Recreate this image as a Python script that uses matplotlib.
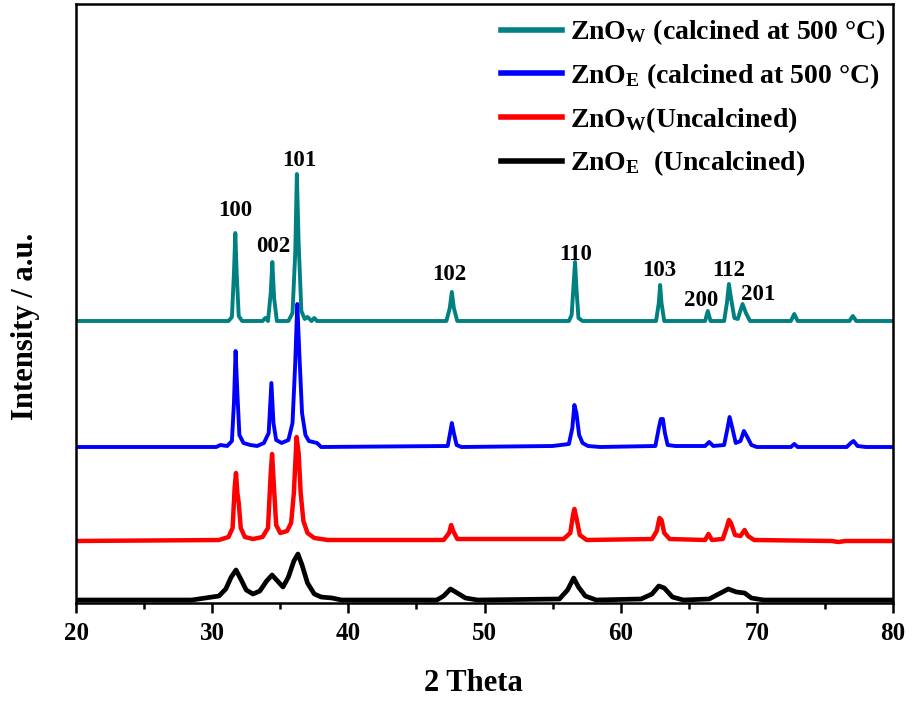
import matplotlib
matplotlib.use("Agg")
import matplotlib.pyplot as plt

plt.rcParams['font.family'] = ['Liberation Serif', 'DejaVu Serif']
plt.rcParams['font.weight'] = 'bold'
plt.rcParams['mathtext.fontset'] = 'custom'
plt.rcParams['mathtext.rm'] = 'Liberation Serif:bold'
plt.rcParams['mathtext.bf'] = 'Liberation Serif:bold'
plt.rcParams['mathtext.it'] = 'Liberation Serif:bold'

# ---- data (2 theta, intensity incl. vertical offset) ----
teal_x = [20.0, 31.2, 31.45, 31.6, 31.7, 31.8, 31.95, 32.2, 33.7, 33.9, 34.1, 34.3, 34.42, 34.55, 34.75,
          35.2, 35.6, 35.9, 36.1, 36.22, 36.35, 36.55, 36.8, 37.0, 37.3, 37.5, 37.7,
          47.2, 47.45, 47.6, 47.75, 48.0, 56.2, 56.4, 56.55, 56.65, 56.75, 56.9, 57.2,
          62.6, 62.8, 62.9, 63.0, 63.2, 66.2, 66.4, 66.6, 67.6, 67.8, 67.95, 68.1, 68.35,
          68.6, 68.95, 69.2, 69.5, 72.5, 72.75, 73.0, 76.8, 77.05, 77.3, 80.0]
teal_y = [282, 282, 286, 330, 370, 330, 287, 282, 282, 285, 282, 310, 341, 305, 282,
          282, 282, 290, 350, 429, 360, 292, 284, 286, 282, 285, 282,
          282, 295, 311, 295, 282, 282, 288, 320, 341, 315, 285, 282,
          282, 300, 318, 300, 282, 282, 292, 282, 282, 300, 319, 305, 285,
          284, 299, 290, 282, 282, 289, 282, 282, 287, 282, 282]

blue_x = [20.0, 30.3, 30.6, 31.1, 31.45, 31.6, 31.72, 31.85, 32.0, 32.3, 32.8, 33.3, 33.8, 34.15,
          34.35, 34.5, 34.7, 35.1, 35.6, 35.9, 36.1, 36.25, 36.4, 36.6, 36.85, 37.1, 37.4, 37.7,
          38.0, 47.3, 47.5, 47.6, 47.75, 47.95, 48.3, 55.0, 56.2, 56.45, 56.6, 56.75, 56.95,
          57.2, 57.6, 58.5, 62.55, 62.8, 62.95, 63.1, 63.25, 63.45, 64.0, 66.2, 66.5, 66.8,
          67.6, 67.85, 68.0, 68.2, 68.45, 68.8, 69.05, 69.3, 69.6, 70.0, 72.5, 72.75, 73.0,
          76.6, 76.9, 77.1, 77.4, 78.0, 80.0]
blue_y = [156, 156, 158, 157, 162, 200, 252, 210, 168, 160, 158, 157, 160, 170,
          220, 180, 163, 160, 163, 180, 240, 299, 250, 190, 168, 162, 161, 160,
          156, 157, 172, 180, 170, 158, 156, 157, 159, 175, 198, 190, 168,
          160, 157, 156, 157, 175, 184, 184, 170, 158, 157, 157, 161, 157,
          158, 175, 186, 175, 160, 162, 172, 166, 158, 156, 156, 159, 156,
          156, 160, 162, 157, 156, 156]

red_x = [20.0, 30.5, 31.2, 31.5, 31.65, 31.75, 31.85, 31.95, 32.1, 32.4, 33.0, 33.7, 34.1, 34.3,
         34.4, 34.5, 34.7, 35.0, 35.5, 35.8, 36.0, 36.2, 36.35, 36.5, 36.7, 37.0, 37.5, 38.5,
         47.0, 47.4, 47.55, 47.7, 48.0, 55.8, 56.3, 56.5, 56.6, 56.75, 57.0, 57.5,
         62.3, 62.65, 62.85, 63.0, 63.2, 63.6, 66.2, 66.45, 66.7, 67.5, 67.8, 67.95, 68.1,
         68.4, 68.8, 69.1, 69.35, 69.8, 75.5, 76.0, 76.5, 80.0]
red_y = [62, 63, 66, 75, 115, 130, 110, 100, 75, 66, 64, 66, 75, 130,
         149, 125, 78, 70, 72, 80, 110, 166, 150, 110, 82, 70, 65, 63,
         63, 70, 78, 72, 64, 64, 70, 88, 94, 85, 68, 63,
         64, 72, 85, 83, 70, 64, 63, 69, 63, 64, 76, 83, 80,
         68, 67, 73, 67, 63, 62, 61, 62, 62]

black_x = [20.0, 28.5, 29.5, 30.5, 31.0, 31.4, 31.75, 32.1, 32.5, 33.0, 33.5, 34.0, 34.4, 34.8,
           35.2, 35.6, 36.0, 36.3, 36.6, 37.0, 37.5, 38.0, 38.8, 39.5, 46.5, 47.0, 47.5, 48.0,
           48.6, 49.5, 55.5, 56.1, 56.55, 56.9, 57.4, 58.2, 61.5, 62.3, 62.8, 63.2, 63.8, 64.6,
           66.5, 67.2, 67.9, 68.5, 69.1, 69.6, 70.5, 80.0]
black_y = [3, 3, 5, 7, 14, 26, 33, 24, 13, 9, 12, 22, 28, 22,
           16, 26, 42, 49, 38, 20, 9, 6, 5, 3, 3, 7, 14, 10,
           5, 3, 4, 13, 25, 16, 7, 3, 4, 9, 17, 15, 6, 3,
           4, 9, 14, 11, 10, 5, 3, 3]

series_labels = [r"ZnO$_\mathregular{W}$ (calcined at 500 °C)",
                 r"ZnO$_\mathregular{E}$ (calcined at 500 °C)",
                 r"ZnO$_\mathregular{W}$(Uncalcined)",
                 r"ZnO$_\mathregular{E}$  (Uncalcined)"]
series_colors = ['#008080', '#0000ff', '#ff0000', '#000000']

peak_labels = ['100', '002', '101', '102', '110', '103', '200', '112', '201']
peak_label_x = [31.69, 34.49, 36.4, 47.43, 56.7, 62.8, 65.9, 67.9, 70.1]
peak_label_y = [392, 357, 442, 329, 349, 332, 302, 332, 309]

# ---- figure ----
fig = plt.figure(figsize=(9.17, 7.04), dpi=100)
ax = fig.add_axes([76/917, 1 - 603/704, (893-76)/917, (603-4)/704])

data = [(teal_x, teal_y), (blue_x, blue_y), (red_x, red_y), (black_x, black_y)]
widths = [2.8, 2.8, 3.2, 3.4]
for (xs, ys), lab, col, lw in zip(data, series_labels, series_colors, widths):
    ax.plot(xs, ys, color=col, lw=lw, label=lab, solid_joinstyle='round')

for t, px, py in zip(peak_labels, peak_label_x, peak_label_y):
    ax.text(px, py, t, ha='center', va='center', fontsize=16.5, fontweight='bold')

ax.set_xlim(20, 80)
ax.set_ylim(0, 599)
ax.set_xticks([20, 30, 40, 50, 60, 70, 80])
ax.set_xticks([25, 35, 45, 55, 65, 75], minor=True)
ax.set_yticks([])
ax.tick_params(axis='x', which='major', direction='out', length=7, width=1.8, labelsize=18, pad=7)
ax.tick_params(axis='x', which='minor', direction='out', length=4, width=1.8)
for lbl in ax.get_xticklabels():
    lbl.set_fontweight('bold')
for s in ax.spines.values():
    s.set_linewidth(1.8)

ax.set_xlabel('2 Theta', fontsize=22, fontweight='bold')
ax.set_ylabel('Intensity / a.u.', fontsize=22, fontweight='bold')
ax.xaxis.set_label_coords(0.486, -0.1336)
ax.xaxis.label.set_va('center')
ax.yaxis.set_label_coords(-0.0624, 0.462)
ax.yaxis.label.set_va('center')

leg = ax.legend(loc='upper right', bbox_to_anchor=(1.012, 1.005), frameon=False, fontsize=20,
                handlelength=2.2, handletextpad=0.3, labelspacing=0.5, borderaxespad=0.2)
for h in leg.get_lines():
    h.set_linewidth(4)
for t in leg.get_texts():
    t.set_fontweight('bold')

fig.savefig('out.png', dpi=100)
